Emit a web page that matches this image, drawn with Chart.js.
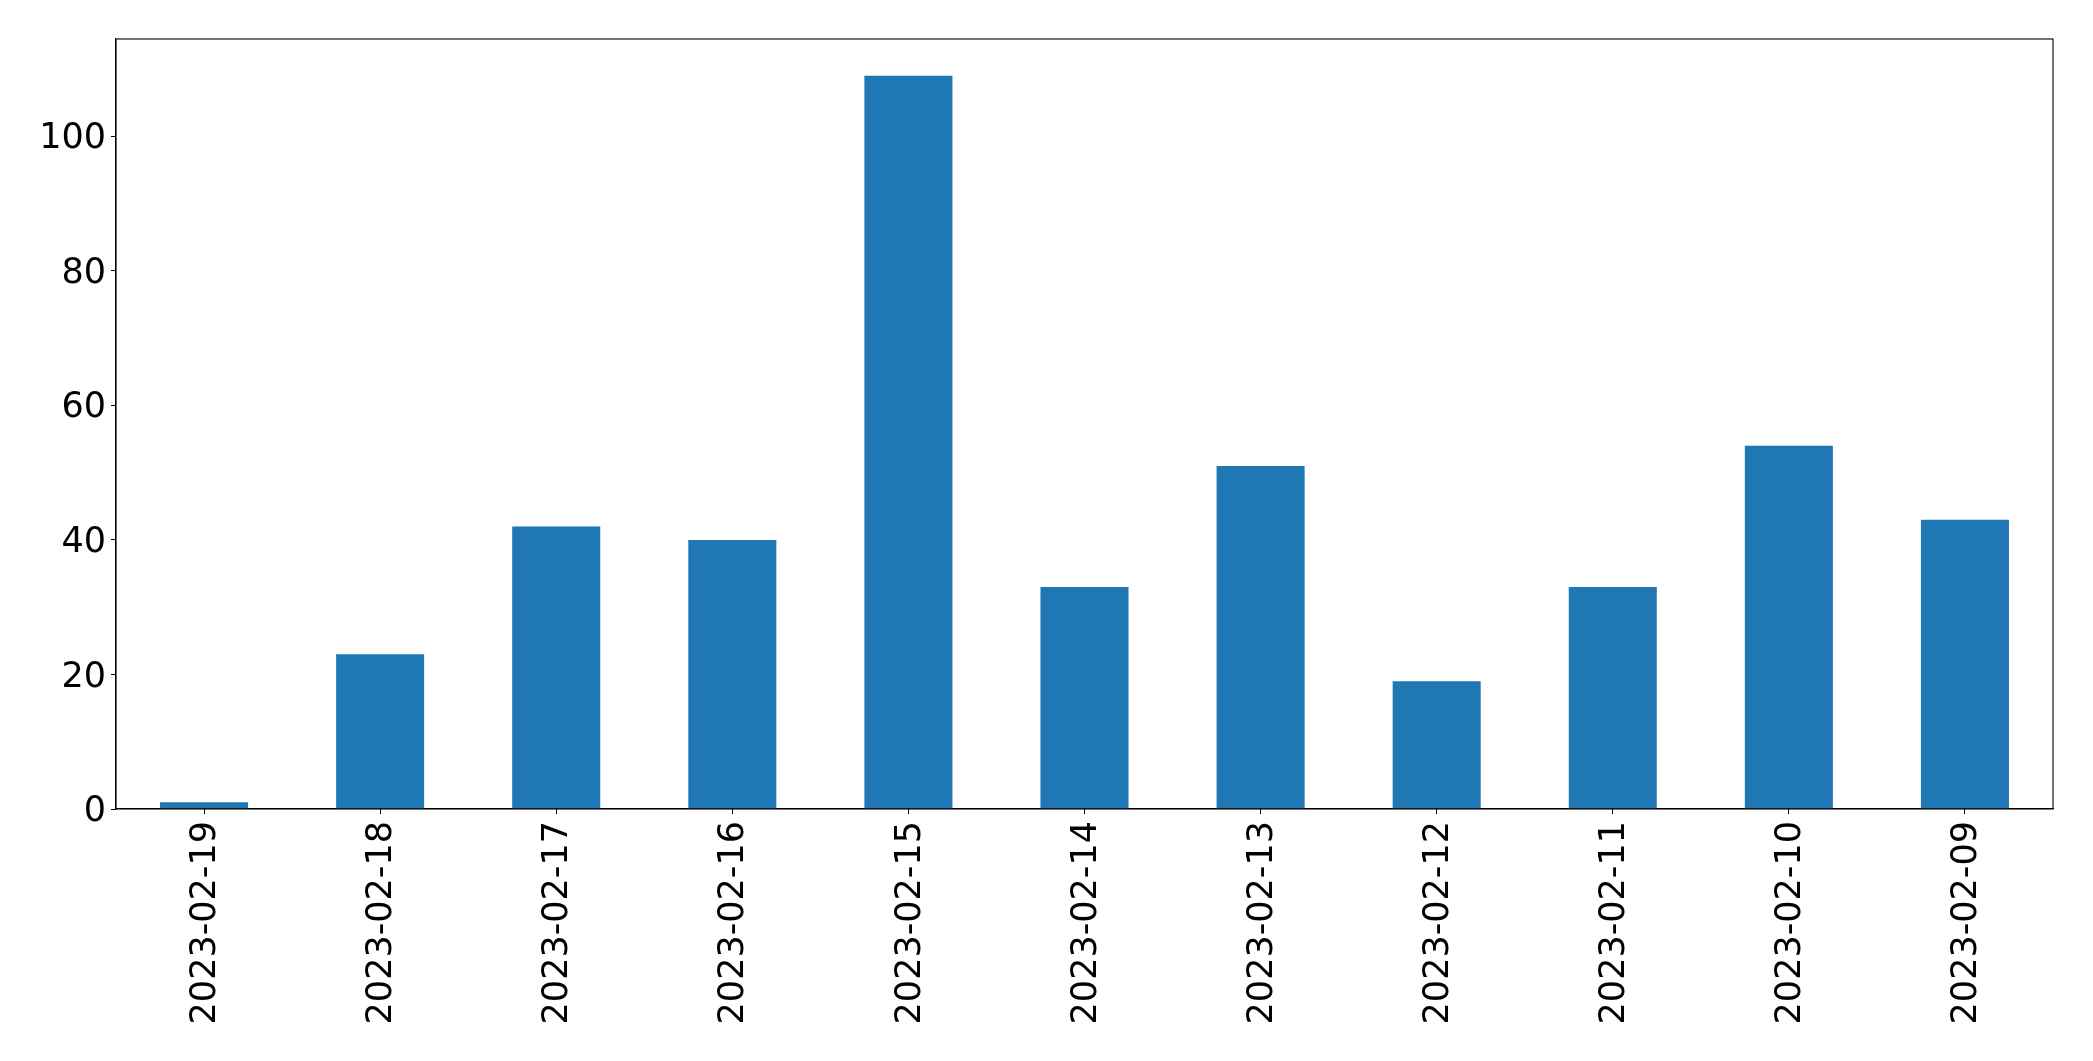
<!DOCTYPE html>
<html>
<head>
<meta charset="utf-8">
<script src="https://cdn.jsdelivr.net/npm/chart.js@4"></script>
<style>
    html, body { margin: 0; padding: 0; background: #ffffff; }
    #wrap { width: 2093px; height: 1061px; }
</style>
</head>
<body>
<div id="wrap"><canvas id="barChart" width="2093" height="1061"></canvas></div>
<script>
// 日期（由新到舊）與每天的數量
const dates = ["2023-02-19", "2023-02-18", "2023-02-17", "2023-02-16", "2023-02-15", "2023-02-14",
    "2023-02-13", "2023-02-12", "2023-02-11", "2023-02-10", "2023-02-09"];
const counts = [1, 23, 42, 40, 109, 33, 51, 19, 33, 54, 43];
const yTickValues = [0, 20, 40, 60, 80, 100];

const FONT = { family: "'DejaVu Sans', sans-serif", size: 35 };

// 畫出繪圖區外框（上、右兩邊）
const frameBox = {
    id: "frameBox",
    afterDraw(chart) {
        const { ctx, chartArea } = chart;
        ctx.save();
        ctx.strokeStyle = "#000";
        ctx.lineWidth = 1.1;
        ctx.strokeRect(chartArea.left, chartArea.top, chartArea.right - chartArea.left, chartArea.bottom - chartArea.top);
        ctx.restore();
    }
};

new Chart(document.getElementById("barChart"), {
    type: "bar",
    data: {
        labels: dates,
        datasets: [{
            data: counts,
            backgroundColor: "#1f77b4",
            barPercentage: 0.5,
            categoryPercentage: 1.0
        }]
    },
    options: {
        responsive: false,
        animation: false,
        layout: { padding: { top: 39, right: 40, left: 0, bottom: 0 } },
        plugins: { legend: { display: false }, tooltip: { enabled: false } },
        scales: {
            x: {
                grid: { drawOnChartArea: false, drawTicks: true, tickLength: 5, tickColor: "#000", offset: false },
                border: { display: true, color: "#000", width: 1.1 },
                ticks: { color: "#000", font: FONT, minRotation: 90, maxRotation: 90, padding: 7, labelOffset: 2, autoSkip: false },
                afterFit: (scale) => { scale.height = 252; }
            },
            y: {
                min: 0,
                max: 114.45,
                grid: { drawOnChartArea: false, drawTicks: true, tickLength: 5, tickColor: "#000" },
                border: { display: true, color: "#000", width: 1.1 },
                ticks: { color: "#000", font: FONT, stepSize: 20, padding: 5, labelOffset: 3 },
                afterBuildTicks: (scale) => {
                    scale.ticks = yTickValues.map((v) => ({ value: v }));
                },
                afterFit: (scale) => { scale.width = 116; }
            }
        }
    },
    plugins: [frameBox]
});
</script>
</body>
</html>
